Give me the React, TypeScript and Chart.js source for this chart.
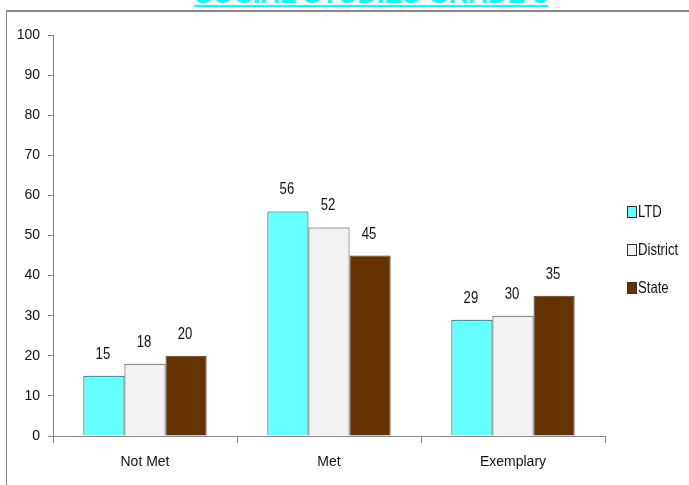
import React, { useEffect, useRef } from "react";
import { Chart, registerables } from "chart.js";

Chart.register(...registerables);

const titleText = "SOCIAL STUDIES GRADE 8";
const categories = ["Not Met", "Met", "Exemplary"];
const seriesNames = ["LTD", "District", "State"];
const ltdValues = [15, 56, 29];
const districtValues = [18, 52, 30];
const stateValues = [20, 45, 35];
const seriesColors = ["#66FFFF", "#F2F2F2", "#663300"];
const yMin = 0;
const yMax = 100;
const yStep = 10;

const TICK_FONT = '"Liberation Sans", Arial, sans-serif';
const NARROW_BASE = '"Liberation Sans", Arial, sans-serif';
const NARROW_X = 0.82;
const AXIS_GRAY = "#868686";

function narrowText(ctx: any, text: string, x: number, y: number, align: string) {
  ctx.save();
  ctx.translate(x, y);
  ctx.scale(NARROW_X, 1);
  ctx.textAlign = align;
  ctx.fillText(text, 0, 0);
  ctx.restore();
}

const valueLabelPlugin = {
  id: "valueLabels",
  afterDatasetsDraw(chart: any) {
    const ctx = chart.ctx;
    ctx.save();
    ctx.font = `16px ${NARROW_BASE}`;
    ctx.fillStyle = "#111";
    ctx.textBaseline = "alphabetic";
    chart.data.datasets.forEach((ds: any, di: number) => {
      const meta = chart.getDatasetMeta(di);
      meta.data.forEach((bar: any, i: number) => {
        narrowText(ctx, String(ds.data[i]), bar.x - 1, bar.y - 17, "center");
      });
    });
    ctx.restore();
  },
};

const legendPlugin = {
  id: "sideLegend",
  afterDraw(chart: any) {
    const ctx = chart.ctx;
    const area = chart.chartArea;
    ctx.save();
    ctx.font = `16px ${NARROW_BASE}`;
    ctx.textBaseline = "middle";
    const x0 = area.right + 22;
    const yc0 = 212;
    chart.data.datasets.forEach((ds: any, i: number) => {
      const yc = yc0 + i * 38;
      ctx.fillStyle = ds.backgroundColor;
      ctx.fillRect(x0 + 0.5, yc - 5.5, 9, 11);
      ctx.strokeStyle = "#333";
      ctx.lineWidth = 1;
      ctx.strokeRect(x0 + 0.5, yc - 5.5, 9, 11);
      ctx.fillStyle = "#111";
      narrowText(ctx, ds.label, x0 + 11, yc + 1, "left");
    });
    ctx.restore();
  },
};

export default function App() {
  const canvasRef = useRef<HTMLCanvasElement | null>(null);

  useEffect(() => {
    const canvas = canvasRef.current;
    if (!canvas) return;
    const valuesList = [ltdValues, districtValues, stateValues];
    const chart = new Chart(canvas, {
      type: "bar",
      data: {
        labels: categories,
        datasets: seriesNames.map((name, i) => ({
          label: name,
          data: valuesList[i],
          backgroundColor: seriesColors[i],
          borderColor: "#3a3a3a",
          borderWidth: 1,
          categoryPercentage: 0.67,
          barPercentage: 1.0,
        })),
      },
      options: {
        responsive: false,
        animation: false,
        layout: { padding: { top: 35, right: 84, left: 0, bottom: 0 } },
        plugins: {
          legend: { display: false },
          tooltip: { enabled: false },
          title: { display: false },
        },
        scales: {
          x: {
            offset: true,
            grid: {
              offset: true,
              drawOnChartArea: false,
              drawTicks: true,
              tickLength: 7,
              color: AXIS_GRAY,
            },
            border: { color: AXIS_GRAY, width: 1 },
            ticks: {
              color: "#111",
              font: { family: TICK_FONT, size: 14 },
              padding: 11,
              maxRotation: 0,
            },
            afterFit: (s: any) => {
              s.height = 49;
            },
          },
          y: {
            min: yMin,
            max: yMax,
            grid: {
              drawOnChartArea: false,
              drawTicks: true,
              tickLength: 5,
              color: AXIS_GRAY,
            },
            border: { color: AXIS_GRAY, width: 1 },
            ticks: {
              stepSize: yStep,
              color: "#111",
              font: { family: TICK_FONT, size: 14 },
              padding: 8,
            },
            afterFit: (s: any) => {
              s.width = 53;
            },
          },
        },
      },
      plugins: [valueLabelPlugin, legendPlugin],
    });
    return () => chart.destroy();
  }, []);

  return (
    <div
      style={{
        position: "fixed",
        top: 0,
        left: 0,
        width: 689,
        height: 485,
        overflow: "hidden",
        background: "#fff",
      }}
    >
      <div
        style={{
          position: "absolute",
          left: 0,
          width: 742,
          top: -17,
          textAlign: "center",
          whiteSpace: "nowrap",
        }}
      >
        <span
          style={{
            display: "inline-block",
            font: 'bold 27px "Liberation Sans", Arial, sans-serif',
            lineHeight: "22px",
            color: "#00FFFF",
            borderBottom: "2px solid #00FFFF",
          }}
        >
          {titleText}
        </span>
      </div>
      <div
        style={{
          position: "absolute",
          left: 6,
          top: 10,
          width: 700,
          height: 500,
          borderTop: "2px solid #888",
          borderLeft: "1.5px solid #888",
        }}
      />
      <canvas
        ref={canvasRef}
        width={689}
        height={485}
        style={{ position: "absolute", left: 0, top: 0, width: 689, height: 485 }}
      />
    </div>
  );
}
